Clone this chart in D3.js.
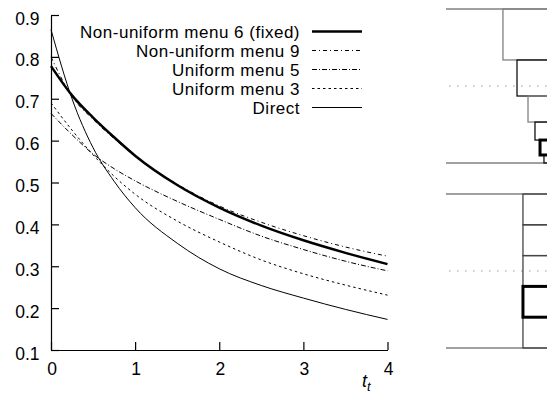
<!DOCTYPE html>
<html>
<head>
<meta charset="utf-8">
<script src="https://cdn.jsdelivr.net/npm/d3@7"></script>
<style>
  body { margin: 0; background: #fff; }
  svg { display: block; font-family: "Liberation Sans", Arial, sans-serif; }
</style>
</head>
<body>
<svg id="chart" width="547" height="394"></svg>
<script>
// values
var tValues = [0, 0.25, 0.5, 0.75, 1, 1.5, 2, 2.5, 3, 3.5, 4];
var nonUniform6 = [0.778, 0.708, 0.655, 0.608, 0.564, 0.494, 0.440, 0.397, 0.362, 0.332, 0.305];
var nonUniform9 = [0.800, 0.705, 0.651, 0.605, 0.563, 0.496, 0.444, 0.405, 0.373, 0.346, 0.324];
var uniform5    = [0.665, 0.614, 0.568, 0.533, 0.504, 0.455, 0.412, 0.372, 0.340, 0.312, 0.289];
var uniform3    = [0.690, 0.625, 0.566, 0.515, 0.472, 0.408, 0.358, 0.315, 0.282, 0.255, 0.231];
var direct      = [0.865, 0.700, 0.583, 0.503, 0.440, 0.355, 0.294, 0.254, 0.224, 0.197, 0.173];

var seriesNames = ['Non-uniform menu 6 (fixed)', 'Non-uniform menu 9', 'Uniform menu 5', 'Uniform menu 3', 'Direct'];
var xTicks = [0, 1, 2, 3, 4];
var yTicks = [0.1, 0.2, 0.3, 0.4, 0.5, 0.6, 0.7, 0.8, 0.9];

// menu sketches on the right (fractions of the menu height)
var nonUniformBounds = [0, 0.331, 0.565, 0.734, 0.851, 0.948, 1.0];
var nonUniformIndent = [0.564, 0.703, 0.812, 0.881, 0.931, 0.970];
var nonUniformPick = 4;
var uniformBounds = [0, 0.2, 0.4, 0.6, 0.8, 1.0];
var uniformIndent = 0.762;
var uniformPick = 3;

var series = [
    {name: seriesNames[0], values: nonUniform6, width: 2.5, dash: null},
    {name: seriesNames[1], values: nonUniform9, width: 1, dash: '4,3,1,3'},
    {name: seriesNames[2], values: uniform5, width: 1, dash: '5,2,1,2'},
    {name: seriesNames[3], values: uniform3, width: 1, dash: '2.5,3'},
    {name: seriesNames[4], values: direct, width: 1, dash: null}
];

var svg = d3.select('#chart');

var xscale = d3.scaleLinear().domain([0, 4]).range([51, 387.5]);
var yscale = d3.scaleLinear().domain([0.1, 0.9]).range([350, 15]);

// axes: left and bottom only, ticks inward
var xaxis = d3.axisTop(xscale).tickValues(xTicks).tickSize(8).tickFormat('').tickSizeOuter(0);
var yaxis = d3.axisRight(yscale).tickValues(yTicks).tickSize(8).tickFormat('').tickSizeOuter(0);

var gx = svg.append('g').attr('transform', 'translate(0,350)').call(xaxis);
var gy = svg.append('g').attr('transform', 'translate(51,0)').call(yaxis);
[gx, gy].forEach(function(g) {
    g.select('.domain').attr('stroke', '#000').attr('stroke-width', 1.2);
    g.selectAll('.tick line').attr('stroke', '#000').attr('stroke-width', 1.2);
});

svg.append('g').selectAll('text')
    .data(yTicks)
    .join('text')
    .attr('x', 39.5)
    .attr('y', d => yscale(d) + 9.5)
    .attr('text-anchor', 'end')
    .attr('font-size', 17.5)
    .text(d => d.toFixed(1));

svg.append('g').selectAll('text')
    .data(xTicks)
    .join('text')
    .attr('x', d => xscale(d) + 1)
    .attr('y', 375)
    .attr('text-anchor', 'middle')
    .attr('font-size', 17.5)
    .text(d => d);

var xlabel = svg.append('text')
    .attr('x', 362)
    .attr('y', 387)
    .attr('font-size', 18)
    .attr('font-style', 'italic');
xlabel.append('tspan').text('t');
xlabel.append('tspan').attr('font-size', 13).attr('dy', 4).text('t');

// curves
var line = d3.line()
    .x((d, i) => xscale(tValues[i]))
    .y(d => yscale(d))
    .curve(d3.curveMonotoneX);

svg.append('g').selectAll('path')
    .data(series.slice().reverse())
    .join('path')
    .attr('d', d => line(d.values))
    .attr('fill', 'none')
    .attr('stroke', '#000')
    .attr('stroke-width', d => d.width)
    .attr('stroke-dasharray', d => d.dash);

// legend
var legend = svg.append('g');
var rowY = d3.scaleLinear().domain([0, 4]).range([31.5, 107.5]);
legend.selectAll('text')
    .data(series)
    .join('text')
    .attr('x', 300)
    .attr('y', (d, i) => rowY(i) + 6)
    .attr('text-anchor', 'end')
    .attr('font-size', 17)
    .attr('letter-spacing', 0.5)
    .text(d => d.name);
legend.selectAll('line')
    .data(series)
    .join('line')
    .attr('x1', 312).attr('x2', 362)
    .attr('y1', (d, i) => rowY(i)).attr('y2', (d, i) => rowY(i))
    .attr('stroke', '#000')
    .attr('stroke-width', d => d.width)
    .attr('stroke-dasharray', d => d.dash);

// menu sketches
var mx = d3.scaleLinear().domain([0, 1]).range([446, 547]);
var gray = '#808080';

function drawMenu(y0, y1, bounds, indents, pick) {
    var my = d3.scaleLinear().domain([0, 1]).range([y0, y1]);
    var g = svg.append('g');
    g.append('line').attr('x1', mx(0)).attr('x2', mx(1.1))
        .attr('y1', my(0)).attr('y2', my(0)).attr('stroke', gray).attr('stroke-width', 1.3);
    g.append('line').attr('x1', mx(0)).attr('x2', mx(1.1))
        .attr('y1', my(1)).attr('y2', my(1)).attr('stroke', gray).attr('stroke-width', 1.3);
    g.append('line').attr('x1', mx(0.03)).attr('x2', mx(1.1))
        .attr('y1', my(0.5)).attr('y2', my(0.5))
        .attr('stroke', '#999').attr('stroke-width', 1.2).attr('stroke-dasharray', '1.5,6.5');
    var items = d3.range(bounds.length - 1).map(function(i) {
        return {i: i, top: bounds[i], bottom: bounds[i + 1],
                left: Array.isArray(indents) ? indents[i] : indents};
    });
    g.selectAll('rect')
        .data(items.filter(d => d.i !== pick).concat(items.filter(d => d.i === pick)))
        .join('rect')
        .attr('x', d => mx(d.left))
        .attr('y', d => my(d.top))
        .attr('width', d => mx(1.2) - mx(d.left))
        .attr('height', d => my(d.bottom) - my(d.top))
        .attr('fill', 'none')
        .attr('stroke', d => d.i === pick ? '#000' : (Array.isArray(indents) && d.i % 2 === 1 ? '#111' : (Array.isArray(indents) ? gray : '#444')))
        .attr('stroke-width', d => d.i === pick ? 3 : 1.3);
}

drawMenu(9, 163, nonUniformBounds, nonUniformIndent, nonUniformPick);
drawMenu(194, 348, uniformBounds, uniformIndent, uniformPick);
</script>
</body>
</html>
